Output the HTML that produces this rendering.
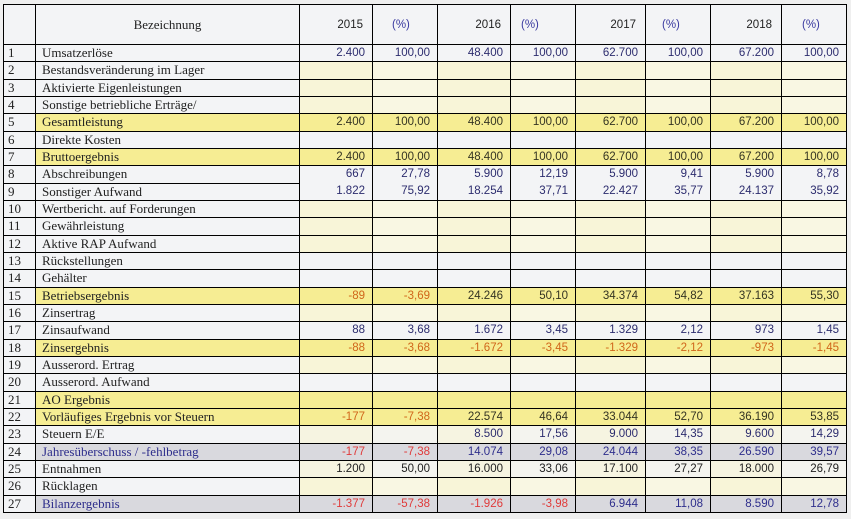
<!DOCTYPE html>
<html><head><meta charset="utf-8">
<style>
html,body{margin:0;padding:0;}
body{width:851px;height:519px;background:#efefef;position:relative;overflow:hidden;}
.grid{position:absolute;left:3px;top:4px;width:844px;height:509px;background:#000;display:grid;
grid-template-columns:31px 263px 72px 64px 72px 64px 69px 64px 70px 64px;
grid-template-rows:39px repeat(27,1fr);gap:1px;padding:1px;box-sizing:border-box;}
.grid>div{display:flex;align-items:center;overflow:hidden;white-space:nowrap;background:#f3f4f6;}
.n{font:13px "Liberation Serif",serif;color:#222;padding-left:4px;}
.l{font:13px "Liberation Serif",serif;color:#222;padding-left:6px;}
.v,.p{font:11.5px "Liberation Sans",sans-serif;justify-content:flex-end;padding-right:7px;color:#2a2a55;}
.h{font:11.5px "Liberation Sans",sans-serif;color:#222;}
.hb{font:13px "Liberation Serif",serif;color:#222;justify-content:center;}
.hy{justify-content:flex-end;padding-right:9px;}
.hp{color:#3a3aa0 !important;}
.grid>div.ly{background:#f8f5d8;}
.grid>div.lp{background:#f9f7e3;}
.grid>div.y{background:#f6ed93;}
.grid>div.g{background:#d9d9de;}
.grid>div.my{background:#f6f4e1;}
.grid>div.mp{background:#f4f4ef;}
.grid>div.nv{color:#2c2c6e;}
.grid>div.dk{color:#333322;}
.grid>div.bk{color:#222;}
.grid>div.or{color:#d0661a;}
.grid>div.rd{color:#e03a3a;}
.grid>div.bl{color:#2e2e8c;}
.grid>div.mt{margin-top:-1px;}
</style></head><body>
<div class="grid">
<!-- header -->
<div></div><div class="hb">Bezeichnung</div>
<div class="h hy">2015</div><div class="h hp" style="padding-left:19px">(%)</div>
<div class="h hy">2016</div><div class="h hp" style="padding-left:10px">(%)</div>
<div class="h hy">2017</div><div class="h hp" style="padding-left:16px">(%)</div>
<div class="h hy">2018</div><div class="h hp" style="padding-left:20px">(%)</div>
<!-- 1 -->
<div class="n">1</div><div class="l">Umsatzerlöse</div>
<div class="v nv">2.400</div><div class="p nv">100,00</div><div class="v nv">48.400</div><div class="p nv">100,00</div><div class="v nv">62.700</div><div class="p nv">100,00</div><div class="v nv">67.200</div><div class="p nv">100,00</div>
<!-- 2 -->
<div class="n">2</div><div class="l">Bestandsveränderung im Lager</div>
<div class="v ly"></div><div class="p lp"></div><div class="v ly"></div><div class="p lp"></div><div class="v ly"></div><div class="p lp"></div><div class="v ly"></div><div class="p lp"></div>
<!-- 3 -->
<div class="n">3</div><div class="l">Aktivierte Eigenleistungen</div>
<div class="v ly"></div><div class="p lp"></div><div class="v ly"></div><div class="p lp"></div><div class="v ly"></div><div class="p lp"></div><div class="v ly"></div><div class="p lp"></div>
<!-- 4 -->
<div class="n">4</div><div class="l">Sonstige betriebliche Erträge/</div>
<div class="v ly"></div><div class="p lp"></div><div class="v ly"></div><div class="p lp"></div><div class="v ly"></div><div class="p lp"></div><div class="v ly"></div><div class="p lp"></div>
<!-- 5 -->
<div class="n">5</div><div class="l y">Gesamtleistung</div>
<div class="v y dk">2.400</div><div class="p y dk">100,00</div><div class="v y dk">48.400</div><div class="p y dk">100,00</div><div class="v y dk">62.700</div><div class="p y dk">100,00</div><div class="v y dk">67.200</div><div class="p y dk">100,00</div>
<!-- 6 -->
<div class="n">6</div><div class="l">Direkte Kosten</div>
<div class="v"></div><div class="p"></div><div class="v"></div><div class="p"></div><div class="v"></div><div class="p"></div><div class="v"></div><div class="p"></div>
<!-- 7 -->
<div class="n">7</div><div class="l y">Bruttoergebnis</div>
<div class="v y dk">2.400</div><div class="p y dk">100,00</div><div class="v y dk">48.400</div><div class="p y dk">100,00</div><div class="v y dk">62.700</div><div class="p y dk">100,00</div><div class="v y dk">67.200</div><div class="p y dk">100,00</div>
<!-- 8 -->
<div class="n">8</div><div class="l">Abschreibungen</div>
<div class="v nv">667</div><div class="p nv">27,78</div><div class="v nv">5.900</div><div class="p nv">12,19</div><div class="v nv">5.900</div><div class="p nv">9,41</div><div class="v nv">5.900</div><div class="p nv">8,78</div>
<!-- 9 -->
<div class="n">9</div><div class="l">Sonstiger Aufwand</div>
<div class="v nv mt">1.822</div><div class="p nv mt">75,92</div><div class="v nv mt">18.254</div><div class="p nv mt">37,71</div><div class="v nv mt">22.427</div><div class="p nv mt">35,77</div><div class="v nv mt">24.137</div><div class="p nv mt">35,92</div>
<!-- 10 -->
<div class="n">10</div><div class="l">Wertbericht. auf Forderungen</div>
<div class="v ly"></div><div class="p lp"></div><div class="v ly"></div><div class="p lp"></div><div class="v ly"></div><div class="p lp"></div><div class="v ly"></div><div class="p lp"></div>
<!-- 11 -->
<div class="n">11</div><div class="l">Gewährleistung</div>
<div class="v ly"></div><div class="p lp"></div><div class="v ly"></div><div class="p lp"></div><div class="v ly"></div><div class="p lp"></div><div class="v ly"></div><div class="p lp"></div>
<!-- 12 -->
<div class="n">12</div><div class="l">Aktive RAP Aufwand</div>
<div class="v ly"></div><div class="p lp"></div><div class="v ly"></div><div class="p lp"></div><div class="v ly"></div><div class="p lp"></div><div class="v ly"></div><div class="p lp"></div>
<!-- 13 -->
<div class="n">13</div><div class="l">Rückstellungen</div>
<div class="v"></div><div class="p"></div><div class="v"></div><div class="p"></div><div class="v"></div><div class="p"></div><div class="v"></div><div class="p"></div>
<!-- 14 -->
<div class="n">14</div><div class="l">Gehälter</div>
<div class="v"></div><div class="p"></div><div class="v"></div><div class="p"></div><div class="v"></div><div class="p"></div><div class="v"></div><div class="p"></div>
<!-- 15 -->
<div class="n">15</div><div class="l y">Betriebsergebnis</div>
<div class="v y or">-89</div><div class="p y or">-3,69</div><div class="v y dk">24.246</div><div class="p y dk">50,10</div><div class="v y dk">34.374</div><div class="p y dk">54,82</div><div class="v y dk">37.163</div><div class="p y dk">55,30</div>
<!-- 16 -->
<div class="n">16</div><div class="l">Zinsertrag</div>
<div class="v ly"></div><div class="p lp"></div><div class="v ly"></div><div class="p lp"></div><div class="v ly"></div><div class="p lp"></div><div class="v ly"></div><div class="p lp"></div>
<!-- 17 -->
<div class="n">17</div><div class="l">Zinsaufwand</div>
<div class="v nv">88</div><div class="p nv">3,68</div><div class="v nv">1.672</div><div class="p nv">3,45</div><div class="v nv">1.329</div><div class="p nv">2,12</div><div class="v nv">973</div><div class="p nv">1,45</div>
<!-- 18 -->
<div class="n">18</div><div class="l y">Zinsergebnis</div>
<div class="v y or">-88</div><div class="p y or">-3,68</div><div class="v y or">-1.672</div><div class="p y or">-3,45</div><div class="v y or">-1.329</div><div class="p y or">-2,12</div><div class="v y or">-973</div><div class="p y or">-1,45</div>
<!-- 19 -->
<div class="n">19</div><div class="l">Ausserord. Ertrag</div>
<div class="v ly"></div><div class="p lp"></div><div class="v ly"></div><div class="p lp"></div><div class="v ly"></div><div class="p lp"></div><div class="v ly"></div><div class="p lp"></div>
<!-- 20 -->
<div class="n">20</div><div class="l">Ausserord. Aufwand</div>
<div class="v"></div><div class="p"></div><div class="v"></div><div class="p"></div><div class="v"></div><div class="p"></div><div class="v"></div><div class="p"></div>
<!-- 21 -->
<div class="n">21</div><div class="l y">AO Ergebnis</div>
<div class="v y"></div><div class="p y"></div><div class="v y"></div><div class="p y"></div><div class="v y"></div><div class="p y"></div><div class="v y"></div><div class="p y"></div>
<!-- 22 -->
<div class="n">22</div><div class="l y">Vorläufiges Ergebnis vor Steuern</div>
<div class="v y or">-177</div><div class="p y or">-7,38</div><div class="v y dk">22.574</div><div class="p y dk">46,64</div><div class="v y dk">33.044</div><div class="p y dk">52,70</div><div class="v y dk">36.190</div><div class="p y dk">53,85</div>
<!-- 23 -->
<div class="n">23</div><div class="l">Steuern E/E</div>
<div class="v my"></div><div class="p mp"></div><div class="v my nv">8.500</div><div class="p mp nv">17,56</div><div class="v my nv">9.000</div><div class="p mp nv">14,35</div><div class="v my nv">9.600</div><div class="p mp nv">14,29</div>
<!-- 24 -->
<div class="n">24</div><div class="l g bl">Jahresüberschuss / -fehlbetrag</div>
<div class="v g rd">-177</div><div class="p g rd">-7,38</div><div class="v g bl">14.074</div><div class="p g bl">29,08</div><div class="v g bl">24.044</div><div class="p g bl">38,35</div><div class="v g bl">26.590</div><div class="p g bl">39,57</div>
<!-- 25 -->
<div class="n">25</div><div class="l">Entnahmen</div>
<div class="v my bk">1.200</div><div class="p mp bk">50,00</div><div class="v my bk">16.000</div><div class="p mp bk">33,06</div><div class="v my bk">17.100</div><div class="p mp bk">27,27</div><div class="v my bk">18.000</div><div class="p mp bk">26,79</div>
<!-- 26 -->
<div class="n">26</div><div class="l">Rücklagen</div>
<div class="v ly"></div><div class="p lp"></div><div class="v ly"></div><div class="p lp"></div><div class="v ly"></div><div class="p lp"></div><div class="v ly"></div><div class="p lp"></div>
<!-- 27 -->
<div class="n">27</div><div class="l g bl">Bilanzergebnis</div>
<div class="v g rd">-1.377</div><div class="p g rd">-57,38</div><div class="v g rd">-1.926</div><div class="p g rd">-3,98</div><div class="v g bl">6.944</div><div class="p g bl">11,08</div><div class="v g bl">8.590</div><div class="p g bl">12,78</div>
</div>
</body></html>
